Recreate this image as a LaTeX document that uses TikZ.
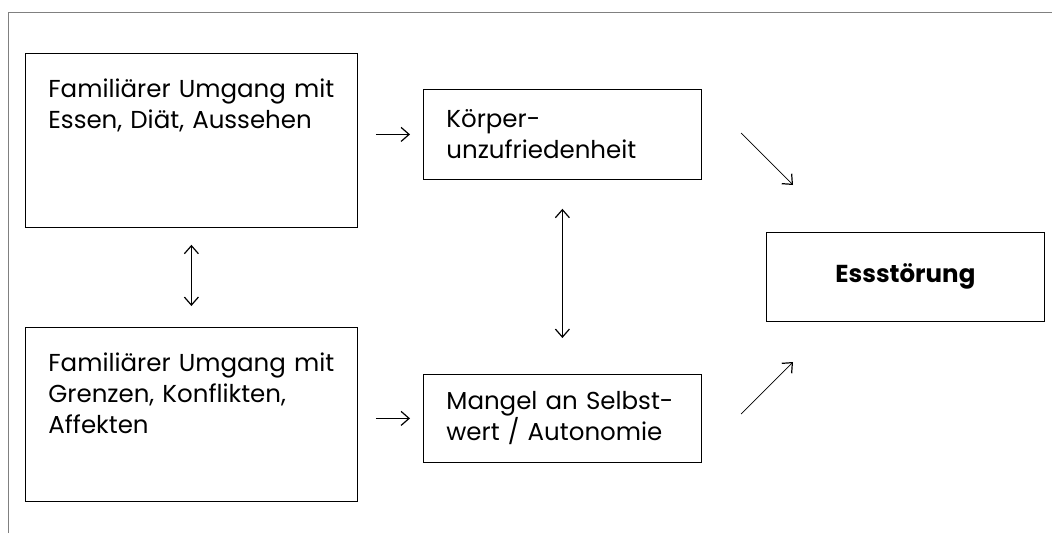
\documentclass[tikz,border=0pt]{standalone}
\usepackage{fontspec}
\setmainfont{Poppins}
\usetikzlibrary{arrows.meta}
\tikzstyle{rec} = [rectangle,draw,line width=0.8pt,align=left,inner xsep=23pt,anchor=north west]
\tikzstyle{conn} = [line width=0.7pt,->,>={Straight Barb[line width=1.2pt,length=8pt,width=14pt]}]
\tikzstyle{both} = [conn,<->]

\begin{document}
\begin{tikzpicture}
		[
		x=1pt,y=-1pt,
		txt/.style={
		font=\fontsize{24.5}{31}\selectfont},
		big/.style={
		rec,txt,
		minimum width=332pt,
		minimum height=174pt,
		text width=286pt,
		inner ysep=0pt,
		text height=44pt,
		text depth=130pt},
		small/.style={
		rec,txt,
		minimum width=278pt,
		minimum height=90pt,
		text width=232pt}
		]
		\useasboundingbox (0,0) rectangle (1052,533);
		\draw[gray,line width=1pt] (8,533) -- (8,12) -- (1052,12);
		\node[big](famessen) at (25,53) {Familiärer Umgang mit\\Essen, Diät, Aussehen};
		\node[big](famgrenzen) at (25,327) {Familiärer Umgang mit\\Grenzen, Konflikten,\\Affekten};
		\node[small](koerper) at (423,89) {Körper-\\unzufriedenheit};
		\node[small,minimum height=88pt](mangel) at (423,374) {Mangel an Selbst-\\wert / Autonomie};
		\node[rec,txt,align=center,minimum width=278pt,minimum height=89pt,font=\fontsize{24.5}{31}\selectfont\bfseries](ess) at (766,232) {Essstörung};
		\coordinate (kout) at (741,133);
		\coordinate (kend) at (793,185);
		\coordinate (mout) at (741,414);
		\coordinate (mend) at (793,362);
		\draw[conn,shorten <=18pt,shorten >=13pt] (koerper.west -| famessen.east) -- (koerper.west);
		\draw[conn,shorten <=18pt,shorten >=13pt] (mangel.west -| famgrenzen.east) -- (mangel.west);
		\draw[both,shorten <=17pt,shorten >=21pt] (famessen.south) -- (famgrenzen.north);
		\draw[both,shorten <=29pt,shorten >=36pt] (koerper.south) -- (mangel.north);
		\draw[conn] (kout) -- (kend);
		\draw[conn] (mout) -- (mend);
\end{tikzpicture}
\end{document}
